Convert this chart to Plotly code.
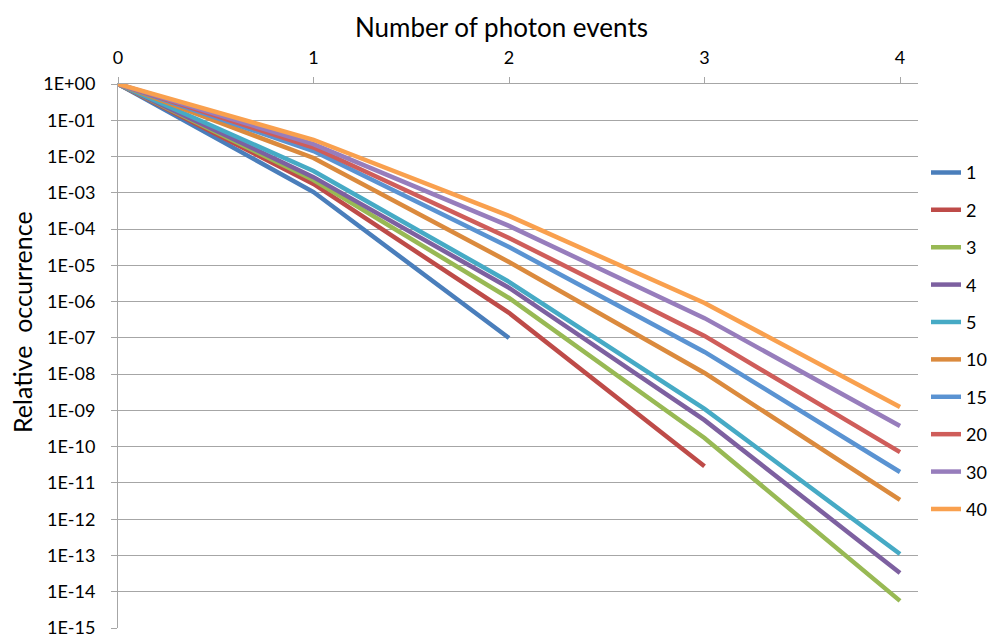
import plotly.graph_objects as go

# Photon event counts on the horizontal axis
events = [0, 1, 2, 3, 4]

# Relative occurrence per series (series name -> values at 0..4 events)
s1 = [1, 1.05e-3, 9.9e-8]
s2 = [1, 1.75e-3, 4.9e-7, 2.9e-11]
s3 = [1, 2.25e-3, 1.26e-6, 1.74e-10, 5.6e-15]
s4 = [1, 2.7e-3, 2.4e-6, 5.4e-10, 3.3e-14]
s5 = [1, 4.0e-3, 3.5e-6, 1.1e-9, 1.1e-13]
s10 = [1, 9.1e-3, 1.24e-5, 1.08e-8, 3.4e-12]
s15 = [1, 1.42e-2, 3.2e-5, 4.1e-8, 2.0e-11]
s20 = [1, 1.77e-2, 5.7e-5, 1.13e-7, 7.1e-11]
s30 = [1, 2.2e-2, 1.22e-4, 3.5e-7, 3.7e-10]
s40 = [1, 2.9e-2, 2.3e-4, 9.2e-7, 1.24e-9]

series_names = ["1", "2", "3", "4", "5", "10", "15", "20", "30", "40"]
series_values = [s1, s2, s3, s4, s5, s10, s15, s20, s30, s40]
series_colors = ["#4A7EBB", "#BE4B48", "#98B954", "#7D60A0", "#46AAC5",
                 "#DB8A3D", "#5A93D2", "#CF5D5A", "#977DBC", "#F9A04E"]

# Decade ticks on the log axis
y_tick_vals = [1e0, 1e-1, 1e-2, 1e-3, 1e-4, 1e-5, 1e-6, 1e-7,
               1e-8, 1e-9, 1e-10, 1e-11, 1e-12, 1e-13, 1e-14, 1e-15]
y_tick_text = ["1E+00", "1E-01", "1E-02", "1E-03", "1E-04", "1E-05", "1E-06", "1E-07",
               "1E-08", "1E-09", "1E-10", "1E-11", "1E-12", "1E-13", "1E-14", "1E-15"]
x_tick_vals = [0, 1, 2, 3, 4]

x_title = "Number of photon events"
y_title = "Relative  occurrence"

FONT = "Lato, 'DejaVu Sans', sans-serif"

fig = go.Figure()
for name, vals, color in zip(series_names, series_values, series_colors):
    fig.add_trace(go.Scatter(
        x=events[:len(vals)], y=vals, name=name, mode="lines",
        line=dict(color=color, width=4.5), legendgroup=name,
    ))

# Axis titles placed as paper-referenced annotations
fig.add_annotation(text=x_title, xref="paper", yref="paper", x=0.479, y=1.105,
                   xanchor="center", yanchor="middle", showarrow=False,
                   font=dict(family=FONT, size=26, color="#000000"))
fig.add_annotation(text=y_title, xref="paper", yref="paper", x=-0.12, y=0.5625,
                   xanchor="center", yanchor="middle", showarrow=False, textangle=-90,
                   font=dict(family=FONT, size=25, color="#000000"))

fig.update_layout(
    width=990, height=637,
    margin=dict(l=118, r=72, t=84, b=9, autoexpand=False),
    paper_bgcolor="white", plot_bgcolor="white",
    font=dict(family=FONT, size=18, color="#000000"),
    showlegend=True,
    legend=dict(
        x=1.01, xanchor="left", y=0.871, yanchor="top",
        font=dict(family=FONT, size=18, color="#000000"),
        tracegroupgap=11, itemwidth=30, bgcolor="rgba(0,0,0,0)",
    ),
    xaxis=dict(
        side="top", range=[0, 4.092], tickvals=x_tick_vals,
        showgrid=False, zeroline=False, automargin=False,
        showline=True, linecolor="#A6A6A6", linewidth=1,
        ticks="outside", ticklen=6, tickcolor="#A6A6A6",
        ticklabelstandoff=6,
        tickfont=dict(family=FONT, size=18),
    ),
    yaxis=dict(
        type="log", range=[-15, 0], tickvals=y_tick_vals, ticktext=y_tick_text,
        showgrid=True, gridcolor="#A6A6A6", gridwidth=1, automargin=False,
        showline=True, linecolor="#A6A6A6", linewidth=1, zeroline=False,
        ticks="outside", ticklen=6, tickcolor="#A6A6A6",
        ticklabelstandoff=12, ticklabeloverflow="allow",
        tickfont=dict(family=FONT, size=18),
    ),
)

fig.write_html("out.html")
